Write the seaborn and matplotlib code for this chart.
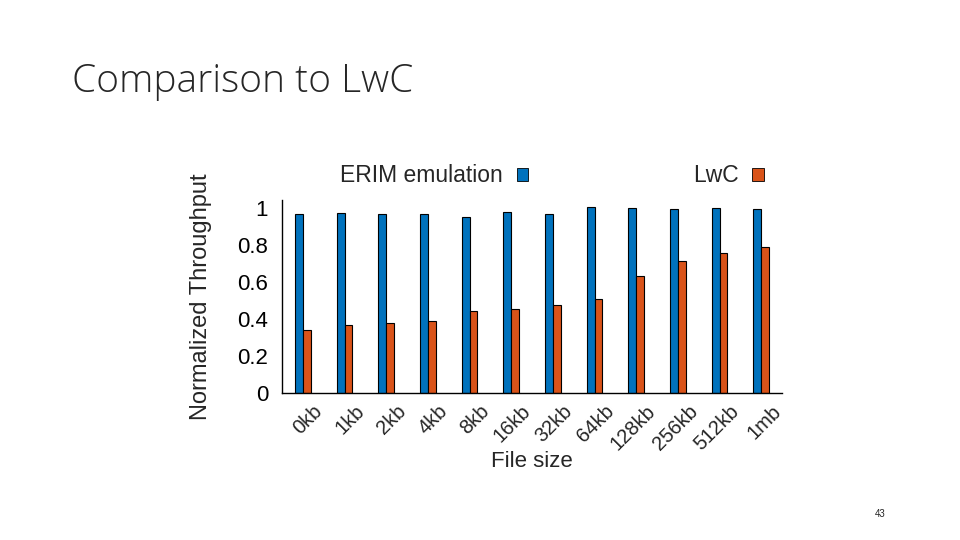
import matplotlib
matplotlib.use("Agg")
import matplotlib.pyplot as plt
import matplotlib.transforms as mtransforms
from matplotlib.patches import Patch
import seaborn as sns
import pandas as pd

# values
file_sizes = ["0kb", "1kb", "2kb", "4kb", "8kb", "16kb", "32kb", "64kb",
              "128kb", "256kb", "512kb", "1mb"]
erim = [0.969, 0.973, 0.969, 0.969, 0.953, 0.980, 0.969, 1.005,
        1.004, 0.996, 1.001, 0.995]
lwc = [0.343, 0.370, 0.377, 0.390, 0.442, 0.453, 0.477, 0.507,
       0.634, 0.715, 0.758, 0.789]
series = ["ERIM emulation", "LwC"]
colors = ["#0072BD", "#D95319"]
yticks = [0, 0.2, 0.4, 0.6, 0.8, 1]
ytick_labels = ["0", "0.2", "0.4", "0.6", "0.8", "1"]

df = pd.DataFrame({
    "size": file_sizes * 2,
    "throughput": erim + lwc,
    "system": [series[0]] * len(file_sizes) + [series[1]] * len(file_sizes),
})

sns.set_style("white")
plt.rcParams["font.family"] = ["Liberation Sans", "DejaVu Sans"]

fig = plt.figure(figsize=(9.6, 5.4), dpi=100)
ax = fig.add_axes([282 / 960, 1 - 393 / 540, 500 / 960, 193 / 540])

sns.barplot(data=df, x="size", y="throughput", hue="system",
            hue_order=series, palette=colors, order=file_sizes,
            width=0.38, gap=0, edgecolor="black", linewidth=0.8,
            saturation=1, legend=False, ax=ax, errorbar=None)

ax.set_xlim(-0.5, len(file_sizes) - 0.5)
ax.set_ylim(0, 1.045)
ax.set_yticks(yticks)
ax.set_yticklabels(ytick_labels)
ax.tick_params(axis="y", direction="in", length=5, width=0.8, labelsize=16,
               pad=10, colors="black")
ax.tick_params(axis="x", length=0, labelsize=14.5, pad=2)

# gnuplot-like rotated labels, shifted right/down of the group centre
offset = mtransforms.ScaledTranslation(0.10, -0.06, fig.dpi_scale_trans)
for lbl in ax.get_xticklabels():
    lbl.set_rotation(45)
    lbl.set_ha("right")
    lbl.set_va("top")
    lbl.set_rotation_mode("anchor")
    lbl.set_transform(lbl.get_transform() + offset)

for side in ["top", "right"]:
    ax.spines[side].set_visible(False)
for side in ["left", "bottom"]:
    ax.spines[side].set_color("black")
    ax.spines[side].set_linewidth(1.0)

ax.set_xlabel("File size", fontsize=16)
ax.xaxis.set_label_coords(0.5, -0.3)
ax.set_ylabel("Normalized Throughput", fontsize=17, labelpad=18)

handles = [Patch(facecolor=c, edgecolor="black", linewidth=0.6) for c in colors]
fig.legend(handles, series, loc="center", bbox_to_anchor=(552 / 960, 1 - 176 / 540),
           ncol=2, markerfirst=False, frameon=False, fontsize=16.5,
           handlelength=0.5, handleheight=0.5, handletextpad=0.6,
           columnspacing=7.2, borderpad=0)

fig.text(72 / 960, 1 - 82 / 540, "Comparison to LwC", fontsize=28,
         family=["Open Sans", "DejaVu Sans"], fontweight="light",
         ha="left", va="center")
fig.text(880 / 960, 1 - 514 / 540, "43", fontsize=7, ha="center", va="center")

fig.savefig("out.png", dpi=100)
